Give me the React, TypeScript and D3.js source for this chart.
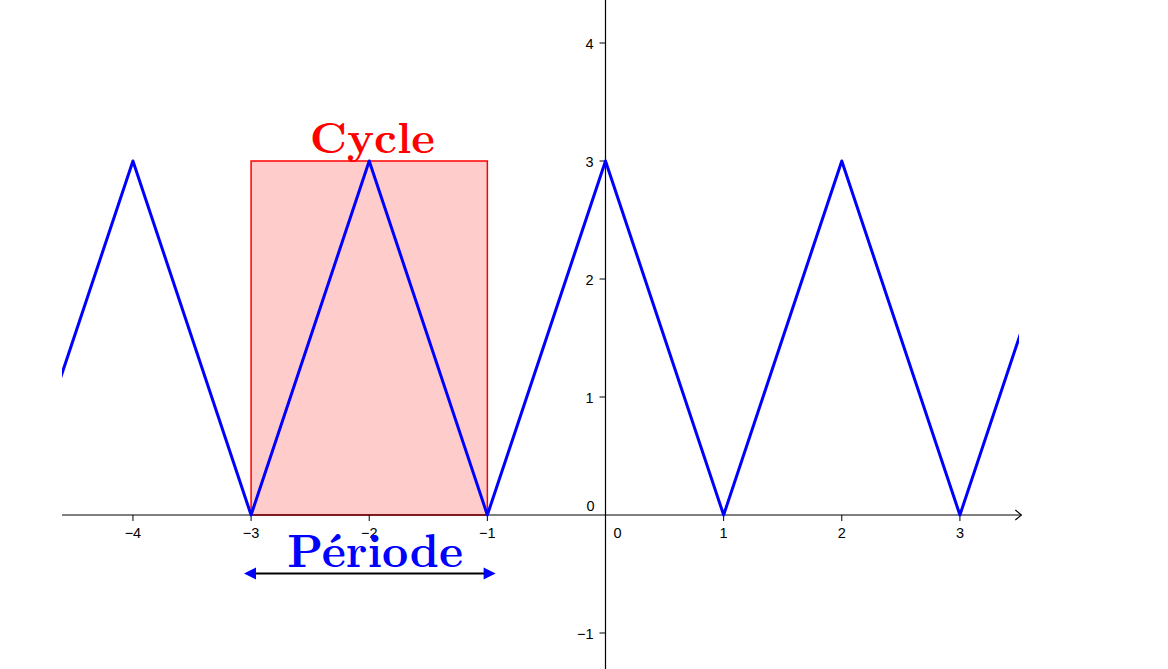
import { useEffect, useRef } from 'react';
import * as d3 from 'd3';

// triangle wave vertices (x, y), clipped to the visible window below
const waveX = [-5, -4, -3, -2, -1, 0, 1, 2, 3, 4];
const waveY = [0, 3, 0, 3, 0, 3, 0, 3, 0, 3];
const waveClip = [-4.6, 3.5];

const xTicks = [-4, -3, -2, -1, 1, 2, 3];
const yTicks = [-1, 1, 2, 3, 4];

// highlighted cycle and period
const cycleX = [-3, -1];
const cycleTop = 3;
const periodX = [-3.06, -0.93];
const periodY = -0.5;

const App = () => {
  const svgRef = useRef<SVGSVGElement | null>(null);

  useEffect(() => {
    document.body.style.margin = '0';
    if (!svgRef.current) return;

    d3.select(svgRef.current).selectAll('*').remove();

    const width = 1168;
    const height = 669;
    const unit = 118.14;
    const originX = 605.5;
    const originY = 515;

    const x = d3.scaleLinear()
      .domain([0, 1])
      .range([originX, originX + unit]);
    const y = d3.scaleLinear()
      .domain([0, 1])
      .range([originY, originY - 118]);

    const svg = d3.select(svgRef.current)
      .attr('width', width)
      .attr('height', height)
      .style('display', 'block')
      .style('background', '#fff');

    const tickFont = '"Liberation Sans", Arial, sans-serif';
    const tickSize = '14.5px';

    // Cycle rectangle
    svg.append('rect')
      .attr('x', x(cycleX[0]))
      .attr('y', y(cycleTop))
      .attr('width', x(cycleX[1]) - x(cycleX[0]))
      .attr('height', y(0) - y(cycleTop))
      .attr('fill', '#ffcccc')
      .attr('stroke', '#ff0000')
      .attr('stroke-width', 1.5);

    // x axis
    const xMin = -4.6;
    const xMax = 3.52;
    svg.append('line')
      .attr('x1', x(xMin)).attr('x2', x(xMax))
      .attr('y1', y(0)).attr('y2', y(0))
      .attr('stroke', '#000').attr('stroke-width', 1.2);
    svg.append('path')
      .attr('d', `M${x(xMax) - 6},${y(0) - 5} L${x(xMax)},${y(0)} L${x(xMax) - 6},${y(0) + 5}`)
      .attr('fill', 'none').attr('stroke', '#000').attr('stroke-width', 1.2);

    xTicks.forEach((t) => {
      svg.append('line')
        .attr('x1', x(t)).attr('x2', x(t))
        .attr('y1', y(0)).attr('y2', y(0) + 6)
        .attr('stroke', '#000').attr('stroke-width', 1);
      svg.append('text')
        .attr('x', x(t))
        .attr('y', y(0) + 23)
        .attr('text-anchor', 'middle')
        .attr('font-family', tickFont)
        .attr('font-size', tickSize)
        .text(t < 0 ? `\u2212${Math.abs(t)}` : `${t}`);
    });
    svg.append('text')
      .attr('x', x(0) + 8).attr('y', y(0) + 23)
      .attr('font-family', tickFont).attr('font-size', tickSize)
      .text('0');

    // y axis
    svg.append('line')
      .attr('x1', x(0)).attr('x2', x(0))
      .attr('y1', 0).attr('y2', height)
      .attr('stroke', '#000').attr('stroke-width', 1.2);
    yTicks.forEach((t) => {
      svg.append('line')
        .attr('x1', x(0) - 6).attr('x2', x(0))
        .attr('y1', y(t)).attr('y2', y(t))
        .attr('stroke', '#000').attr('stroke-width', 1);
      svg.append('text')
        .attr('x', x(0) - 12)
        .attr('y', y(t) + 5.5)
        .attr('text-anchor', 'end')
        .attr('font-family', tickFont)
        .attr('font-size', tickSize)
        .text(t < 0 ? `\u2212${Math.abs(t)}` : `${t}`);
    });
    svg.append('text')
      .attr('x', x(0) - 11).attr('y', y(0) - 4)
      .attr('text-anchor', 'end')
      .attr('font-family', tickFont).attr('font-size', tickSize)
      .text('0');

    // triangle wave
    svg.append('clipPath').attr('id', 'wave-clip')
      .append('rect')
      .attr('x', x(waveClip[0])).attr('y', 0)
      .attr('width', x(waveClip[1]) - x(waveClip[0]))
      .attr('height', height);

    const line = d3.line<number>()
      .x((_, i) => x(waveX[i]))
      .y((d) => y(d));
    svg.append('path')
      .attr('d', line(waveY) ?? '')
      .attr('clip-path', 'url(#wave-clip)')
      .attr('fill', 'none')
      .attr('stroke', '#0000ff')
      .attr('stroke-width', 3)
      .attr('stroke-linejoin', 'round');

    // small stray point under -2
    svg.append('circle')
      .attr('cx', x(-1.97)).attr('cy', y(-0.185))
      .attr('r', 2.2).attr('fill', '#0000ff');

    // labels
    const serif = '"Latin Modern Roman", "DejaVu Serif", "Liberation Serif", serif';
    svg.append('text')
      .attr('x', (x(cycleX[0]) + x(cycleX[1])) / 2 + 3)
      .attr('y', y(cycleTop) - 8)
      .attr('text-anchor', 'middle')
      .attr('font-family', serif)
      .attr('font-weight', 'bold')
      .attr('font-size', '44px')
      .attr('fill', '#ff0000')
      .attr('textLength', 125)
      .attr('lengthAdjust', 'spacingAndGlyphs')
      .text('Cycle');

    svg.append('text')
      .attr('x', (x(cycleX[0]) + x(cycleX[1])) / 2 + 6)
      .attr('y', y(0) + 52)
      .attr('text-anchor', 'middle')
      .attr('font-family', serif)
      .attr('font-weight', 'bold')
      .attr('font-size', '46px')
      .attr('fill', '#0000ff')
      .attr('textLength', 176)
      .attr('lengthAdjust', 'spacingAndGlyphs')
      .text('Période');

    // period arrow
    const ay = y(periodY) - 0.5;
    const ax0 = x(periodX[0]);
    const ax1 = x(periodX[1]);
    svg.append('line')
      .attr('x1', ax0 + 10).attr('x2', ax1 - 10)
      .attr('y1', ay).attr('y2', ay)
      .attr('stroke', '#000').attr('stroke-width', 2);
    svg.append('path')
      .attr('d', `M${ax0},${ay} L${ax0 + 12},${ay - 6} L${ax0 + 12},${ay + 6} Z`)
      .attr('fill', '#0000ff');
    svg.append('path')
      .attr('d', `M${ax1},${ay} L${ax1 - 12},${ay - 6} L${ax1 - 12},${ay + 6} Z`)
      .attr('fill', '#0000ff');
  }, []);

  return <svg ref={svgRef}></svg>;
};

export default App;
